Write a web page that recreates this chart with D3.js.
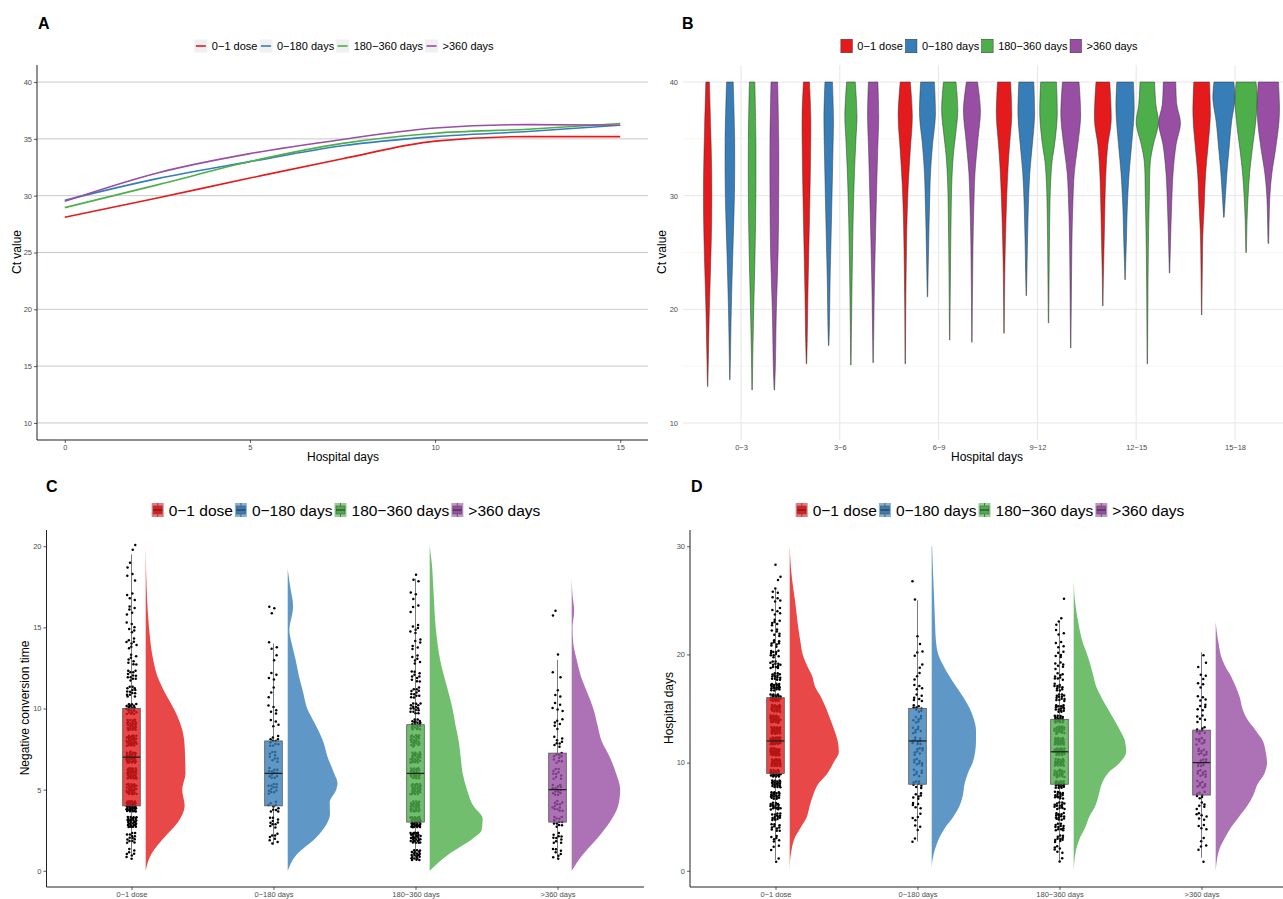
<!DOCTYPE html>
<html>
<head>
<meta charset="utf-8">
<script src="https://cdn.jsdelivr.net/npm/d3@7"></script>
<style>
  html, body { margin: 0; padding: 0; background: #ffffff; }
  svg text { font-family: "Liberation Sans", Arial, Helvetica, sans-serif; }
</style>
</head>
<body>
<svg id="fig" width="1283" height="899"></svg>
<script>
// ---- shared groups ----
const groups = ["0\u22121 dose", "0\u2212180 days", "180\u2212360 days", ">360 days"];
const groupColors = ["#E41A1C", "#377EB8", "#4DAF4A", "#984EA3"];

// ---- panel A: smoothed Ct value by hospital day ----
const daysA = [0, 2.5, 5, 7.5, 10, 12.5, 15];
const ctA = [
  [28.1, 29.8, 31.55, 33.25, 34.8, 35.2, 35.2],
  [29.6, 31.5, 33.0, 34.4, 35.2, 35.65, 36.2],
  [28.95, 30.95, 33.0, 34.6, 35.5, 35.85, 36.35],
  [29.5, 32.0, 33.7, 34.95, 35.95, 36.25, 36.2]
];
const xTicksA = [0, 5, 10, 15];
const yTicksA = [10, 15, 20, 25, 30, 35, 40];

// ---- panel B: violin profiles [Ct, density] per bin and group ----
const binsB = ["0\u22123", "3\u22126", "6\u22129", "9\u221212", "12\u221215", "15\u221218"];
const violinB = [
  [
    [[40, 1.8], [36, 3], [32, 4], [28, 4], [24, 3], [20, 1.7], [16, 0.8], [13.2, 0.2]],
    [[40, 3.3], [35, 4.7], [30, 4.5], [25, 2.9], [20, 1.4], [16, 0.6], [13.8, 0.2]],
    [[40, 2.7], [35, 3.7], [30, 3.7], [25, 2.9], [20, 1.6], [16, 0.7], [12.9, 0.2]],
    [[40, 3.3], [35, 4.3], [30, 4.3], [25, 3.7], [20, 2], [15, 1], [12.9, 0.2]]
  ],
  [
    [[40, 3], [37, 4.3], [33, 4], [28, 3], [22, 1.6], [17, 0.7], [15.2, 0.2]],
    [[40, 3.7], [37, 4.7], [33, 4], [28, 2.8], [23, 1.5], [18, 0.6], [16.8, 0.2]],
    [[40, 4.3], [37, 6], [35, 5], [32, 3.5], [28, 2.2], [24, 1.4], [20, 0.8], [15.1, 0.2]],
    [[40, 4.7], [37, 5.5], [34, 4.5], [30, 3.3], [26, 2.2], [22, 1.2], [18, 0.6], [15.3, 0.2]]
  ],
  [
    [[40, 5], [37, 7], [34, 5], [31, 3], [28, 1.8], [24, 1], [20, 0.5], [15.2, 0.2]],
    [[40, 6.8], [37, 7.8], [34.5, 5], [32, 3], [29, 2], [25, 1], [22, 0.4], [21.1, 0.2]],
    [[40, 6.2], [37.5, 8], [35.5, 6], [33.5, 3.5], [31, 2], [27, 1.2], [22, 0.6], [17.3, 0.2]],
    [[40, 5.5], [37.5, 8.4], [35, 6], [32, 3], [29.5, 2], [26.5, 1.2], [22, 0.6], [17.1, 0.2]]
  ],
  [
    [[40, 6.5], [37, 7.6], [34.5, 5.5], [32.5, 4], [29.5, 2.5], [26.5, 1.5], [23.5, 0.8], [17.9, 0.2]],
    [[40, 7.4], [37, 8.2], [34.5, 6], [32, 3.5], [29, 2], [26, 1.2], [23, 0.6], [21.2, 0.2]],
    [[40, 7.8], [37, 8.6], [34.5, 6], [33, 3.5], [31, 2], [28, 1.2], [23, 0.6], [18.8, 0.2]],
    [[40, 8.2], [37, 9.8], [34.5, 7], [32, 3.5], [29, 2], [26, 1.2], [21, 0.6], [16.6, 0.2]]
  ],
  [
    [[40, 6.8], [36.5, 8.2], [34.5, 5], [32, 3], [29, 2], [26, 1.3], [23, 0.6], [20.3, 0.2]],
    [[40, 8.2], [37.5, 9], [34.5, 6.5], [32, 4], [29, 2.2], [26, 1.3], [24, 0.6], [22.6, 0.2]],
    [[40, 7.2], [38, 8.5], [36.4, 11], [34.5, 6], [33, 3], [30, 2], [25, 1], [20, 0.5], [15.2, 0.2]],
    [[40, 6.2], [38, 7.2], [36.4, 10.8], [34.5, 6.5], [32, 3.5], [29, 2], [26, 1], [23.2, 0.2]]
  ],
  [
    [[40, 7.8], [37, 8.6], [34.5, 6.5], [32, 4], [29, 2.5], [26.5, 1.2], [23, 0.6], [19.5, 0.2]],
    [[40, 9.8], [38.5, 10.9], [36.5, 7.6], [34, 5], [32, 3], [30, 1.5], [28.1, 0.3]],
    [[40, 9.8], [38.5, 11], [36.5, 9.5], [34, 6], [32, 3.5], [30, 2], [28, 1], [25, 0.3]],
    [[40, 10], [38, 11], [36.5, 10.5], [34, 7], [32, 3.5], [30, 1.5], [28, 0.8], [25.8, 0.3]]
  ]
];
const yTicksB = [10, 20, 30, 40];
const yMinorB = [15, 25, 35];

// ---- panel C: negative conversion time ----
// [value, number of patients]
const countsC = [
  [[1, 8], [2, 14], [3, 30], [4, 38], [5, 30], [6, 34], [7, 34], [8, 32], [9, 26], [10, 22], [11, 14], [12, 12], [13, 8], [14, 8], [15, 6], [16, 5], [17, 4], [18, 3], [19, 2], [20, 2]],
  [[2, 8], [3, 10], [4, 10], [5, 12], [6, 12], [7, 9], [8, 11], [9, 4], [10, 5], [11, 3], [12, 4], [13, 2], [14, 3], [16, 3]],
  [[1, 22], [2, 30], [3, 34], [4, 26], [5, 28], [6, 26], [7, 26], [8, 24], [9, 20], [10, 16], [11, 12], [12, 10], [13, 6], [14, 6], [15, 6], [16, 3], [17, 3], [18, 3]],
  [[1, 8], [2, 10], [3, 12], [4, 12], [5, 14], [6, 10], [7, 10], [8, 8], [9, 6], [10, 5], [11, 3], [12, 2], [13, 1], [16, 2]]
];
// [lower whisker, Q1, median, Q3, upper whisker]
const boxC = [[1, 4, 7, 10, 19.5], [1.6, 4, 6, 8, 14], [0.8, 3, 6, 9, 18], [0.8, 3, 5, 7.25, 13]];
// [value, density]
const densC = [
  [[0, 0], [1, 5.4], [2, 17.8], [3, 32.4], [4, 39], [5, 36.5], [6, 39.8], [7, 39.4], [8, 38.6], [9, 35], [10, 28], [11, 19], [12, 11.6], [13, 7.5], [15, 3.3], [17, 1.2], [20, 0]],
  [[0, 0], [1, 9], [2, 27.8], [3, 40], [3.5, 42.3], [4.2, 42], [5, 48.5], [5.4, 49.8], [6, 46.5], [7, 40], [8, 35.3], [9, 27.8], [10, 19.5], [11, 15.4], [12, 11.2], [13, 7.9], [14, 4], [14.8, 1.7], [16.3, 5.4], [17.5, 2.5], [18.6, 0]],
  [[0, 0], [1, 18.7], [2, 43.6], [2.5, 51.9], [3.2, 53], [4, 43.6], [5, 37.3], [6, 33], [7, 31], [8, 29], [9, 25.7], [10, 22.8], [11, 18.7], [13, 10.4], [15, 6], [17, 4], [19, 2], [20, 0]],
  [[0, 0], [1, 11.2], [2, 25.7], [3, 38.2], [4, 46.5], [5, 48.5], [6, 44.4], [7, 38.2], [8, 29.9], [9, 25.7], [10, 21.6], [11, 15.4], [12, 9.1], [13, 5], [14, 1.6], [15, 0.8], [16, 2.5], [17, 0.8], [18, 0]]
];
const yTicksC = [0, 5, 10, 15, 20];

// ---- panel D: hospital days ----
const countsD = [
  [[1, 2], [2, 3], [3, 6], [4, 10], [5, 14], [6, 16], [7, 18], [8, 20], [9, 22], [10, 30], [11, 34], [12, 34], [13, 30], [14, 26], [15, 22], [16, 22], [17, 18], [18, 14], [19, 12], [20, 10], [21, 8], [22, 6], [23, 6], [24, 5], [25, 4], [26, 3], [27, 2], [28, 1]],
  [[3, 2], [4, 3], [5, 4], [6, 5], [7, 6], [8, 8], [9, 7], [10, 8], [11, 8], [12, 9], [13, 7], [14, 7], [15, 8], [16, 6], [17, 4], [18, 3], [19, 2], [20, 3], [21, 1], [22, 1], [25, 1], [27, 1]],
  [[1, 2], [2, 6], [3, 10], [4, 12], [5, 14], [6, 14], [7, 14], [8, 20], [9, 20], [10, 24], [11, 26], [12, 26], [13, 22], [14, 18], [15, 14], [16, 12], [17, 10], [18, 8], [19, 6], [20, 5], [21, 4], [22, 3], [23, 3], [25, 1]],
  [[1, 1], [2, 3], [3, 2], [4, 4], [5, 6], [6, 5], [7, 7], [8, 8], [9, 9], [10, 10], [11, 9], [12, 8], [13, 8], [14, 5], [15, 5], [16, 4], [17, 3], [18, 3], [19, 2], [20, 1]]
];
const boxD = [[1, 9, 12, 16, 26], [2.7, 8, 12, 15, 25], [0.8, 8, 11, 14, 23], [1.2, 7, 10, 13, 20.2]];
const densD = [
  [[0, 0], [1, 0.4], [2, 2], [3, 4.9], [4, 11], [5, 17.2], [6, 20], [7, 23.4], [8, 28.3], [9, 37.7], [10, 43.9], [11, 49.2], [12, 48], [13, 44.7], [14, 40.6], [15, 36.5], [16, 31.6], [17, 25.4], [18, 22.5], [19, 17.2], [20, 13], [21, 11], [23, 7.8], [25, 5.3], [26, 3.7], [28, 1.2], [30, 0]],
  [[0.3, 0], [1, 0.8], [2, 3.3], [3, 7.4], [4, 13.5], [5, 21.7], [6, 27.9], [7, 31.2], [8, 32.8], [9, 36.1], [10, 41], [11, 43.5], [12, 44.3], [13, 44.3], [14, 42.2], [15, 38.1], [16, 32], [17, 24.6], [18, 17.6], [19, 11.5], [20, 6.6], [21, 4.5], [23, 3.3], [25, 2.5], [27, 1.6], [30, 0.4]],
  [[0, 0], [1, 0.8], [2, 2.5], [3, 6.1], [4, 11.5], [5, 15.6], [6, 21.7], [7, 25], [8, 27.9], [9, 34], [10, 46.3], [11, 52.5], [12, 51.3], [13, 46.3], [14, 40.2], [15, 34], [16, 27.9], [17, 22.6], [18, 19.7], [19, 16.8], [20, 13.5], [21, 9.4], [23, 4.5], [25, 1.2], [26, 0.4], [27, 0]],
  [[0, 0], [1, 1.2], [2, 3.7], [3, 9], [4, 15.2], [5, 23.4], [6, 31.6], [7, 37.7], [8, 41.8], [9, 48.8], [10, 51.3], [11, 50], [12, 47.2], [13, 39.8], [14, 31.6], [15, 26.7], [16, 24.2], [17, 20.1], [18, 15.2], [19, 9], [20, 4.9], [21, 2.9], [22, 1.2], [23, 0]]
];
const yTicksD = [0, 10, 20, 30];

// ---------------------------------------------------------------
const svg = d3.select("#fig");
const tickColor = "#4d4d4d";
const axisColor = "#222222";

function label(x, y, text, size, opts) {
  const o = opts || {};
  const t = svg.append("text")
    .attr("x", x)
    .attr("y", y)
    .attr("font-size", size)
    .attr("fill", o.fill || "#000")
    .attr("text-anchor", o.anchor || "middle")
    .attr("dominant-baseline", o.baseline || "central")
    .text(text);
  if (o.bold) t.attr("font-weight", 700);
  if (o.rotate) t.attr("transform", "rotate(-90," + x + "," + y + ")");
  return t;
}

function styleAxis(g, withTicks) {
  g.select(".domain").remove();
  g.selectAll(".tick line").attr("stroke", withTicks ? "#333" : "none").attr("stroke-width", 0.8);
  g.selectAll(".tick text").attr("fill", tickColor).attr("font-size", 7.5)
    .attr("font-family", '"Liberation Sans", Arial, sans-serif');
}

function drawLegend(cx, cy, fontSize, kw, kh, gap, keyDraw) {
  const g = svg.append("g");
  let x = 0;
  groups.forEach(function(name, i) {
    const item = g.append("g").attr("transform", "translate(" + x + ",0)");
    keyDraw(item, i, kw, kh);
    const t = item.append("text")
      .attr("x", kw + gap)
      .attr("y", 0)
      .attr("dominant-baseline", "central")
      .attr("font-size", fontSize)
      .attr("fill", "#000")
      .text(name);
    x += kw + gap + t.node().getComputedTextLength() + 2;
  });
  g.attr("transform", "translate(" + (cx - x / 2) + "," + cy + ")");
}

// jitter offsets from a fixed low-discrepancy sequence (no randomness)
let jitterIndex = 0;
function nextJitter() {
  jitterIndex += 1;
  return [((jitterIndex * 0.7548776662) % 1) * 2 - 1, ((jitterIndex * 0.569840291) % 1) * 2 - 1];
}

// ================= Panel A =================
(function() {
  const left = 37, right = 648, top = 65, bottom = 440;
  const x = d3.scaleLinear().domain([-0.75, 15.75]).range([left, right]);
  const y = d3.scaleLinear().domain([8.5, 41.5]).range([bottom, top]);

  svg.append("g").selectAll("line").data(yTicksA).join("line")
    .attr("x1", left).attr("x2", right)
    .attr("y1", d => y(d)).attr("y2", d => y(d))
    .attr("stroke", "#c9c9c9").attr("stroke-width", 1);

  const line = d3.line().x((d, i) => x(daysA[i])).y(d => y(d)).curve(d3.curveMonotoneX);
  ctA.forEach(function(series, i) {
    svg.append("path").datum(series).attr("d", line)
      .attr("fill", "none").attr("stroke", groupColors[i]).attr("stroke-width", 1.6);
  });

  const ax = svg.append("g").attr("transform", "translate(0," + bottom + ")")
    .call(d3.axisBottom(x).tickValues(xTicksA).tickSize(3).tickPadding(2));
  styleAxis(ax, true);
  const ay = svg.append("g").attr("transform", "translate(" + left + ",0)")
    .call(d3.axisLeft(y).tickValues(yTicksA).tickSize(3).tickPadding(2));
  styleAxis(ay, true);
  svg.append("path").attr("d", "M" + left + "," + top + "V" + bottom + "H" + right)
    .attr("fill", "none").attr("stroke", axisColor).attr("stroke-width", 1);

  label(343, 457, "Hospital days", 12);
  label(17, 252, "Ct value", 12, { rotate: true });
  label(38, 23, "A", 16, { bold: true, anchor: "start" });

  drawLegend(345, 46, 11, 13, 13, 4.5, function(item, i, kw, kh) {
    item.append("rect").attr("x", 0).attr("y", -kh / 2).attr("width", kw).attr("height", kh).attr("fill", "#f0f0f0");
    item.append("line").attr("x1", 1.5).attr("x2", kw - 1.5).attr("y1", 0).attr("y2", 0)
      .attr("stroke", groupColors[i]).attr("stroke-width", 1.6);
  });
})();

// ================= Panel B =================
(function() {
  const left = 683, right = 1294, top = 65, bottom = 440;
  const x = d3.scalePoint().domain(binsB).range([741, 1235]);
  const y = d3.scaleLinear().domain([8.5, 41.5]).range([bottom, top]);
  const step = x.step();
  const slot = step * 0.9 / 4;
  const w = d3.scaleLinear().domain([0, 11]).range([0, slot / 2]);

  svg.append("g").selectAll("line").data(yMinorB).join("line")
    .attr("x1", left).attr("x2", right).attr("y1", d => y(d)).attr("y2", d => y(d))
    .attr("stroke", "#f2f2f2").attr("stroke-width", 0.8);
  svg.append("g").selectAll("line").data(yTicksB).join("line")
    .attr("x1", left).attr("x2", right).attr("y1", d => y(d)).attr("y2", d => y(d))
    .attr("stroke", "#e6e6e6").attr("stroke-width", 1);
  svg.append("g").selectAll("line").data(binsB).join("line")
    .attr("x1", d => x(d)).attr("x2", d => x(d)).attr("y1", top).attr("y2", bottom)
    .attr("stroke", "#e6e6e6").attr("stroke-width", 1);

  binsB.forEach(function(bin, b) {
    violinB[b].forEach(function(profile, gi) {
      const cx = x(bin) + (gi - 1.5) * slot;
      const area = d3.area()
        .y(d => y(d[0]))
        .x0(d => cx - w(d[1]))
        .x1(d => cx + w(d[1]))
        .curve(d3.curveCatmullRom.alpha(0.5));
      svg.append("path").datum(profile).attr("d", area)
        .attr("fill", groupColors[gi]).attr("stroke", "#333").attr("stroke-width", 0.5);
    });
  });

  const ax = svg.append("g").attr("transform", "translate(0," + (bottom + 2) + ")")
    .call(d3.axisBottom(x).tickSize(0).tickPadding(3));
  styleAxis(ax, false);
  const ay = svg.append("g").attr("transform", "translate(" + left + ",0)")
    .call(d3.axisLeft(y).tickValues(yTicksB).tickSize(0).tickPadding(5));
  styleAxis(ay, false);

  label(987, 457, "Hospital days", 12);
  label(662, 252, "Ct value", 12, { rotate: true });
  label(682, 23, "B", 16, { bold: true, anchor: "start" });

  drawLegend(990, 46, 11, 12.5, 13.5, 4.5, function(item, i, kw, kh) {
    item.append("rect").attr("x", 0.5).attr("y", -kh / 2).attr("width", kw - 1).attr("height", kh)
      .attr("fill", groupColors[i]).attr("stroke", "#333").attr("stroke-width", 0.5);
  });
})();

// ================= Panels C & D (raincloud) =================
function drawRaincloud(opts) {
  const x = d3.scalePoint().domain(groups).range(opts.xRange);
  const y = d3.scaleLinear().domain(opts.yDomain).range([887, 530]);
  const step = x.step();
  const dw = d3.scaleLinear().domain([0, 50]).range([0, step * 0.352]);
  const bw = step * 0.062;

  groups.forEach(function(gname, i) {
    const cx = x(gname);
    const base = cx + step * 0.1;
    const area = d3.area()
      .y(d => y(d[0]))
      .x0(base)
      .x1(d => base + dw(Math.max(0, d[1])))
      .curve(d3.curveMonotoneY);
    svg.append("path").datum(opts.dens[i]).attr("d", area)
      .attr("fill", groupColors[i]).attr("fill-opacity", 0.8);

    const pts = [];
    opts.counts[i].forEach(function(c) {
      for (let k = 0; k < c[1]; k++) {
        const j = nextJitter();
        pts.push([cx + j[0] * step * 0.036, c[0] + j[1] * 0.35]);
      }
    });
    svg.append("g").selectAll("circle").data(pts).join("circle")
      .attr("cx", d => d[0]).attr("cy", d => y(d[1])).attr("r", 1.25).attr("fill", "#000");

    const b = opts.boxes[i];
    svg.append("line").attr("x1", cx).attr("x2", cx).attr("y1", y(b[0])).attr("y2", y(b[1]))
      .attr("stroke", "#222").attr("stroke-width", 0.6);
    svg.append("line").attr("x1", cx).attr("x2", cx).attr("y1", y(b[3])).attr("y2", y(b[4]))
      .attr("stroke", "#222").attr("stroke-width", 0.6);
    svg.append("rect").attr("x", cx - bw).attr("width", bw * 2)
      .attr("y", y(b[3])).attr("height", y(b[1]) - y(b[3]))
      .attr("fill", groupColors[i]).attr("fill-opacity", 0.8)
      .attr("stroke", "#555").attr("stroke-width", 0.8);
    svg.append("line").attr("x1", cx - bw).attr("x2", cx + bw).attr("y1", y(b[2])).attr("y2", y(b[2]))
      .attr("stroke", "#222").attr("stroke-width", 1.3);
  });

  const ax = svg.append("g").attr("transform", "translate(0,887)")
    .call(d3.axisBottom(x).tickSize(3).tickPadding(1.5));
  styleAxis(ax, true);
  const ay = svg.append("g").attr("transform", "translate(" + opts.left + ",0)")
    .call(d3.axisLeft(y).tickValues(opts.yTicks).tickSize(3).tickPadding(2));
  styleAxis(ay, true);
  svg.append("path").attr("d", "M" + opts.left + ",530V887H" + opts.right)
    .attr("fill", "none").attr("stroke", axisColor).attr("stroke-width", 1);

  label(opts.titleX, 708, opts.yTitle, 12, { rotate: true });
  label(opts.letterX, 486, opts.letter, 16, { bold: true, anchor: "start" });

  drawLegend(opts.legendX, 510, 15.5, 12, 14, 5, function(item, i, kw, kh) {
    item.append("rect").attr("x", 0).attr("y", -kh / 2).attr("width", kw).attr("height", kh)
      .attr("fill", groupColors[i]).attr("fill-opacity", 0.6);
    item.append("line").attr("x1", kw / 2).attr("x2", kw / 2).attr("y1", -kh / 2).attr("y2", kh / 2)
      .attr("stroke", "#333").attr("stroke-width", 0.6);
    item.append("rect").attr("x", 1.5).attr("y", -kh / 2 + 3).attr("width", kw - 3).attr("height", kh - 6)
      .attr("fill", groupColors[i]).attr("stroke", "#555").attr("stroke-width", 0.6);
    item.append("line").attr("x1", 1.5).attr("x2", kw - 1.5).attr("y1", 0).attr("y2", 0)
      .attr("stroke", "#222").attr("stroke-width", 0.9);
  });
}

drawRaincloud({
  xRange: [131.5, 557.5], yDomain: [-1, 21], left: 46.5, right: 644,
  dens: densC, counts: countsC, boxes: boxC, yTicks: yTicksC,
  yTitle: "Negative conversion time", titleX: 25, letter: "C", letterX: 46, legendX: 347
});
drawRaincloud({
  xRange: [775.5, 1201.5], yDomain: [-1.5, 31.5], left: 690, right: 1283,
  dens: densD, counts: countsD, boxes: boxD, yTicks: yTicksD,
  yTitle: "Hospital days", titleX: 669, letter: "D", letterX: 691, legendX: 991
});
</script>
</body>
</html>
